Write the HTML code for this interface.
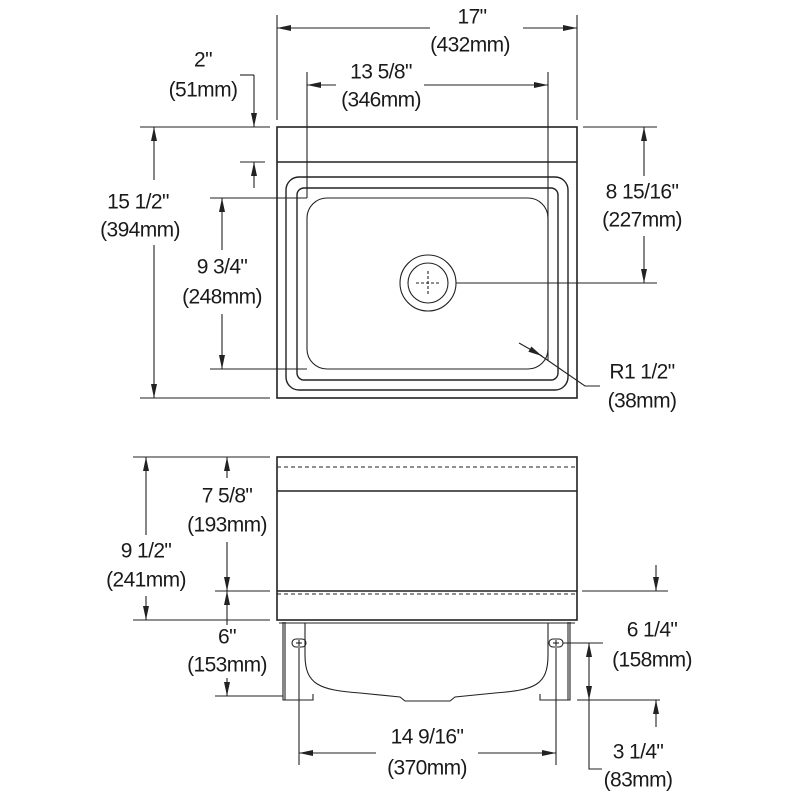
<!DOCTYPE html>
<html><head><meta charset="utf-8"><style>
html,body{margin:0;padding:0;background:#fff}
svg{display:block}
text{font-family:"Liberation Sans Narrow","Liberation Sans",sans-serif;font-size:21px;letter-spacing:-0.6px;fill:#1a1a1a;text-anchor:middle;dominant-baseline:central}
</style></head><body>
<svg width="800" height="800" viewBox="0 0 800 800" xmlns="http://www.w3.org/2000/svg">
<defs>
<marker id="a" viewBox="0 0 14 6" refX="14" refY="3" markerWidth="14" markerHeight="6" markerUnits="userSpaceOnUse" orient="auto-start-reverse"><path d="M0,0 L14,3 L0,6 Z" fill="#222"/></marker>
</defs>
<g stroke="#222" stroke-width="1.1" fill="none">
<rect x="277" y="127" width="300" height="271" stroke-width="1.6"/>
<line x1="277" y1="162" x2="577" y2="162" stroke-width="1.4"/>
<rect x="286" y="177" width="282" height="213" rx="13" stroke-width="1.4"/>
<rect x="297" y="188" width="261" height="192" rx="7" stroke-width="1.4"/>
<rect x="307" y="198" width="241" height="171" rx="20"/>
<circle cx="428" cy="283" r="28"/>
<circle cx="428" cy="283" r="20"/>
<line x1="416" y1="283" x2="440" y2="283" stroke-dasharray="3,2"/>
<line x1="428" y1="271" x2="428" y2="295" stroke-dasharray="3,2"/>
<line x1="277" y1="15" x2="277" y2="120"/>
<line x1="577" y1="15" x2="577" y2="120"/>
<line x1="277" y1="28" x2="430" y2="28" marker-start="url(#a)"/>
<line x1="523" y1="28" x2="577" y2="28" marker-end="url(#a)"/>
<line x1="307" y1="72" x2="307" y2="198"/>
<line x1="548" y1="72" x2="548" y2="360"/>
<line x1="307" y1="85" x2="336" y2="85" marker-start="url(#a)"/>
<line x1="424" y1="85" x2="548" y2="85" marker-end="url(#a)"/>
<line x1="240" y1="75" x2="254" y2="75"/>
<line x1="254" y1="75" x2="254" y2="127" marker-end="url(#a)"/>
<line x1="254" y1="188" x2="254" y2="162" marker-end="url(#a)"/>
<line x1="240" y1="162" x2="265" y2="162"/>
<line x1="140" y1="127" x2="270" y2="127"/>
<line x1="140" y1="398" x2="270" y2="398"/>
<line x1="154" y1="180" x2="154" y2="127" marker-end="url(#a)"/>
<line x1="154" y1="245" x2="154" y2="398" marker-end="url(#a)"/>
<line x1="210" y1="198" x2="307" y2="198"/>
<line x1="210" y1="369" x2="307" y2="369"/>
<line x1="222" y1="250" x2="222" y2="198" marker-end="url(#a)"/>
<line x1="222" y1="314" x2="222" y2="369" marker-end="url(#a)"/>
<line x1="583" y1="127" x2="657" y2="127"/>
<line x1="456" y1="283" x2="657" y2="283"/>
<line x1="644" y1="176" x2="644" y2="127" marker-end="url(#a)"/>
<line x1="644" y1="236" x2="644" y2="283" marker-end="url(#a)"/>
<line x1="519" y1="343" x2="542" y2="356" marker-end="url(#a)"/>
<polyline points="540,355 585,386 600,386"/>
<rect x="277" y="457" width="300" height="163" stroke-width="1.6"/>
<line x1="277" y1="467" x2="577" y2="467" stroke-dasharray="4,3"/>
<line x1="277" y1="491" x2="577" y2="491" stroke-width="1.4"/>
<line x1="277" y1="591" x2="577" y2="591" stroke-width="1.4"/>
<line x1="277" y1="594" x2="577" y2="594" stroke-dasharray="4,3"/>
<line x1="279" y1="623" x2="575" y2="623"/>
<polyline points="283,622 283,700 313,700 313,694"/>
<line x1="285" y1="622" x2="285" y2="700"/>
<polyline points="570,622 570,700 540,700 540,694"/>
<line x1="568" y1="622" x2="568" y2="700"/>
<path d="M305,623 L305,655 C305,685 320,690 360,693 L400,697 L405,701 L450,701 L455,697 L495,693 C535,690 548,685 548,655 L548,623"/>
<rect x="292" y="639" width="14" height="8" rx="4"/>
<rect x="549" y="639" width="14" height="8" rx="4"/>
<line x1="296" y1="643" x2="302" y2="643"/><line x1="299" y1="640" x2="299" y2="646"/>
<line x1="553" y1="643" x2="559" y2="643"/><line x1="556" y1="640" x2="556" y2="646"/>
<line x1="133" y1="457" x2="270" y2="457"/>
<line x1="133" y1="620" x2="270" y2="620"/>
<line x1="146" y1="535" x2="146" y2="457" marker-end="url(#a)"/>
<line x1="146" y1="596" x2="146" y2="620" marker-end="url(#a)"/>
<line x1="227" y1="478" x2="227" y2="457" marker-end="url(#a)"/>
<line x1="227" y1="542" x2="227" y2="591" marker-end="url(#a)"/>
<line x1="215" y1="591" x2="270" y2="591"/>
<line x1="227" y1="625" x2="227" y2="591" marker-end="url(#a)"/>
<line x1="227" y1="678" x2="227" y2="696" marker-end="url(#a)"/>
<line x1="215" y1="696" x2="283" y2="696"/>
<line x1="299" y1="648" x2="299" y2="765"/>
<line x1="556" y1="648" x2="556" y2="765"/>
<line x1="299" y1="753" x2="376" y2="753" marker-start="url(#a)"/>
<line x1="478" y1="753" x2="556" y2="753" marker-end="url(#a)"/>
<line x1="582" y1="591" x2="668" y2="591"/>
<line x1="656" y1="565" x2="656" y2="591" marker-end="url(#a)"/>
<line x1="563" y1="643" x2="603" y2="643"/>
<line x1="577" y1="700" x2="660" y2="700"/>
<line x1="589" y1="670" x2="589" y2="643" marker-end="url(#a)"/>
<line x1="589" y1="670" x2="589" y2="700" marker-end="url(#a)"/>
<polyline points="589,700 589,769 602,769"/>
<line x1="656" y1="727" x2="656" y2="700" marker-end="url(#a)"/>
</g>
<g>
<text x="472" y="17">17"</text><text x="470" y="45">(432mm)</text>
<text x="203" y="60">2"</text><text x="203" y="90">(51mm)</text>
<text x="381" y="72">13 5/8"</text><text x="381" y="100">(346mm)</text>
<text x="138" y="202">15 1/2"</text><text x="140" y="230">(394mm)</text>
<text x="222" y="267">9 3/4"</text><text x="222" y="297">(248mm)</text>
<text x="642" y="192">8 15/16"</text><text x="642" y="220">(227mm)</text>
<text x="642" y="372">R1 1/2"</text><text x="642" y="401">(38mm)</text>
<text x="227" y="496">7 5/8"</text><text x="227" y="525">(193mm)</text>
<text x="146" y="551">9 1/2"</text><text x="146" y="580">(241mm)</text>
<text x="227" y="637">6"</text><text x="227" y="665">(153mm)</text>
<text x="427" y="737">14 9/16"</text><text x="427" y="768">(370mm)</text>
<text x="652" y="630">6 1/4"</text><text x="652" y="660">(158mm)</text>
<text x="638" y="752">3 1/4"</text><text x="638" y="780">(83mm)</text>
</g>
</svg>
</body></html>
